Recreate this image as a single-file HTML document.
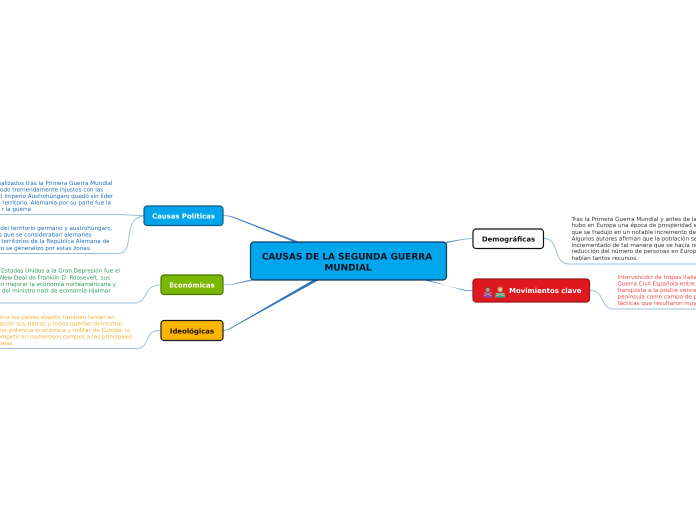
<!DOCTYPE html>
<html>
<head>
<meta charset="utf-8">
<style>
html,body{margin:0;padding:0;background:#fff;width:696px;height:520px;overflow:hidden}
svg{display:block}
text{font-family:"DejaVu Sans",sans-serif;text-rendering:geometricPrecision}
.t{font-size:5.65px;filter:blur(0.2px)}
.n{font-size:6.9px;font-weight:bold}
</style>
</head>
<body>
<svg width="696" height="520" viewBox="0 0 696 520" xmlns="http://www.w3.org/2000/svg">
<rect width="696" height="520" fill="#fff"/>

<!-- main tapered connectors -->
<path d="M296.5 243 L302 243 L233 216.6 C230 215.8 227 215.4 223 215.4 L223 216 C227 216 229 216.4 232 217.2 Z" fill="#3f80c2"/>
<path d="M250 279.6 L258 279.6 L232 284.8 C229 285.2 226 285.2 223 285.2 L223 284.6 C226 284.6 229 284.5 231 284.2 Z" fill="#6f9fd2"/>
<path d="M313 280 L319 280 L234 326.8 C230 329.6 227 330.6 223 330.8 L223 330.2 C227 330 229 329 232.5 326.8 Z" fill="#2f75ba"/>
<path d="M446 241.6 L446 243.2 L463 239.8 C467 239.2 470 239 473 239 L473 238.4 C470 238.4 467 238.5 463 239 Z" fill="#6f9fd2"/>
<path d="M423 280 L428 280 L463 290.2 C466.5 291 470 291 473 291 L473 290.4 C470 290.4 467 290.2 464 289.6 Z" fill="#4b88c4"/>

<!-- branch connectors -->
<g fill="none" stroke="#9cc0e2" stroke-width="1">
<path d="M144 215.5 C135 215.5 125 214.5 118 214.5 L0 214.5"/>
<path d="M144 216 C134 217 131 223 129 236 C128 247 126 253.5 118 253.5 L0 253.5"/>
<path d="M161 285 C152 285 149 288 146 294 C143 300 141 303 134 303 L0 303"/>
<path d="M161 330.5 C152 330.5 150 333 147 340 C145 345 143 348.5 136 348.5 L0 348.5"/>
<path d="M543 238.5 C550 238.5 553 241 556 250 C559 260 562 264 570 264 L696 264"/>
<path d="M589 290.5 C596 290.5 599 292 602 299 C605 306 608 309 614 309 L696 309"/>
</g>

<!-- left text: Causas Politicas -->
<g class="t" fill="#1f6fb8" text-anchor="end">
<text x="112.5" y="184.8">realizados tras la Primera Guerra Mundial</text>
<text x="100" y="191.3" text-anchor="start" transform="translate(-100 0)">odo tremendamente injustos con las</text>
<text x="113" y="197.8">El Imperio Austrohúngaro quedó sin líder</text>
<text x="111" y="204.3">u territorio. Alemania por su parte fue la</text>
<text x="31" y="210.8">r la guerra</text>
<text x="112.5" y="230.2">del territorio germano y austrohúngaro,</text>
<text x="91.5" y="236.7">os que se consideraban alemanes</text>
<text x="109.5" y="243.2">s territorios de la República Alemana de</text>
<text x="91.5" y="249.9">to se generalizó por estas zonas.</text>
</g>
<!-- Economicas text -->
<g class="t" fill="#2f9a5c" text-anchor="end">
<text x="120" y="272.6">n Estados Unidos a la Gran Depresión fue el</text>
<text x="110" y="279.3">New Deal de Franklin D. Roosevelt, sus</text>
<text x="116" y="285.8">on mejorar la economía norteamericana y</text>
<text x="110.7" y="292.4">s del ministro nazi de economía Hjalmar</text>
</g>
<!-- Ideologicas text -->
<g class="t" fill="#f7b13c" text-anchor="end">
<text x="114.7" y="319.2">poca los países aliados también tenían en</text>
<text x="122.7" y="325.6">ración sus tierras y todos querían demostrar</text>
<text x="130" y="332">yor potencia económica y militar de Europa, lo</text>
<text x="132.5" y="338.6">ompetir en numerosos campos a las principales</text>
<text x="14" y="345">peas.</text>
</g>
<!-- Demograficas text -->
<g class="t" fill="#333">
<text x="571.5" y="220.8">Tras la Primera Guerra Mundial y antes de la Segunda</text>
<text x="571.5" y="227.2">hubo en Europa una época de prosperidad económica</text>
<text x="571.5" y="233.8">que se tradujo en un notable incremento de la natalidad</text>
<text x="571.5" y="240.4">Algunos autores afirman que la población se había</text>
<text x="571.5" y="246.8">incrementado de tal manera que se hacía necesaria una</text>
<text x="571.5" y="253.2">reducción del número de personas en Europa, donde no</text>
<text x="571.5" y="259.8">habían tantos recursos.</text>
</g>
<!-- Movimientos text -->
<g class="t" fill="#f2494c">
<text x="617.5" y="278.9">Intervención de tropas italianas y alemanas en la</text>
<text x="617.5" y="285.5">Guerra Civil Española entre 1936 y 1939, a favor</text>
<text x="617.5" y="292">franquista a la postre vencedora, utilizando la</text>
<text x="617.5" y="298.5">península como campo de pruebas de armas y</text>
<text x="617.5" y="305">tácticas que resultaron muy útiles</text>
</g>

<!-- center node -->
<rect x="250.5" y="242" width="196" height="38" rx="3.5" fill="#00a5ec" stroke="#12395c" stroke-width="1.2"/>
<g font-size="9" font-weight="bold" fill="#0b1320" text-anchor="middle">
<text x="347" y="259.3">CAUSAS DE LA SEGUNDA GUERRA</text>
<text x="348" y="270.3">MUNDIAL</text>
</g>

<!-- nodes -->
<rect x="144" y="206" width="79" height="19.5" rx="3" fill="#00a5ec" stroke="#125a86" stroke-width="1.2"/>
<text class="n" x="183.5" y="218.6" fill="#fff" text-anchor="middle">Causas Políticas</text>

<rect x="161" y="275" width="62" height="19.5" rx="3" fill="#7ab800" stroke="#4c7400" stroke-width="1.2"/>
<text class="n" x="192" y="287.5" fill="#fff" text-anchor="middle">Económicas</text>

<rect x="161" y="320.5" width="62" height="20" rx="3" fill="#ffb400" stroke="#1c1c1c" stroke-width="1.2"/>
<text class="n" x="192" y="333.3" fill="#111" text-anchor="middle">Ideológicas</text>

<rect x="473" y="229" width="70.5" height="19.5" rx="3" fill="#fff" stroke="#111" stroke-width="1.2"/>
<text class="n" x="508.5" y="241.6" fill="#111" text-anchor="middle">Demográficas</text>

<rect x="473" y="279" width="116.5" height="23" rx="3" fill="#e0191e" stroke="#9c1419" stroke-width="1.2"/>
<text class="n" x="545.3" y="293.2" fill="#fff" text-anchor="middle">Movimientos clave</text>

<!-- emoji -->
<g>
<circle cx="487.8" cy="289.4" r="2.8" fill="#6e4a3a"/>
<circle cx="487.8" cy="289.9" r="1.9" fill="#c79a80"/>
<path d="M483 297.6 L483.6 293.4 Q487.8 291.2 492 293.4 L492.6 297.6 Z" fill="#8f3fb0"/>
<path d="M484 292.5 L491.5 295.8 M491.5 292.5 L484 295.8" stroke="#c79a80" stroke-width="0.9"/>
<circle cx="500.2" cy="289.2" r="2.7" fill="#c98a50"/>
<circle cx="500.2" cy="289.9" r="2.1" fill="#e8bc8c"/>
<path d="M495 297.6 L495.6 293.4 Q500.2 291.6 504.8 293.4 L505.4 297.6 Z" fill="#2fa59a"/>
<path d="M495.8 293 L504.6 296 M504.6 293 L495.8 296" stroke="#e8bc8c" stroke-width="0.9"/>
</g>
</svg>
</body>
</html>
